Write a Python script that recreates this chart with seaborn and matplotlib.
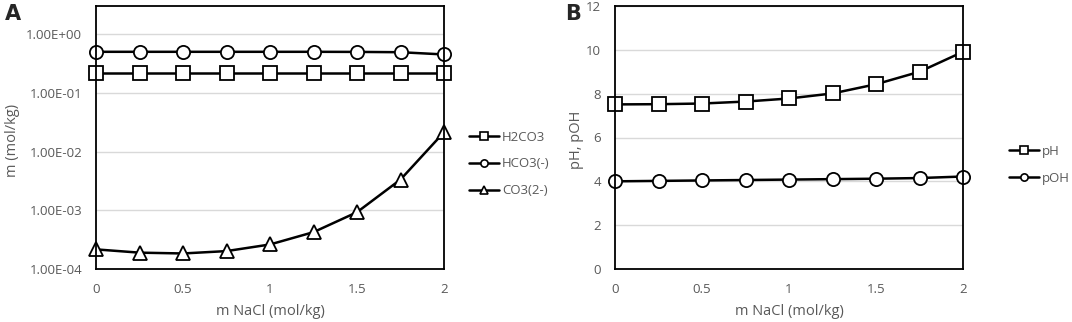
import numpy as np
import pandas as pd
import matplotlib
matplotlib.use("Agg")
import matplotlib.pyplot as plt
import matplotlib.ticker as mticker
import seaborn as sns

# ---- data ----
nacl = [0, 0.25, 0.5, 0.75, 1.0, 1.25, 1.5, 1.75, 2.0]
h2co3 = [0.222, 0.222, 0.222, 0.222, 0.222, 0.222, 0.222, 0.222, 0.222]
hco3 = [0.505, 0.505, 0.505, 0.505, 0.505, 0.505, 0.503, 0.497, 0.455]
co3 = [2.16e-4, 1.9e-4, 1.84e-4, 2.02e-4, 2.62e-4, 4.25e-4, 9.3e-4, 3.35e-3, 2.15e-2]
ph = [7.51, 7.52, 7.55, 7.64, 7.78, 8.01, 8.43, 9.0, 9.91]
poh = [4.0, 4.02, 4.04, 4.06, 4.08, 4.10, 4.12, 4.15, 4.22]

labels_a = ["H2CO3", "HCO3(-)", "CO3(2-)"]
labels_b = ["pH", "pOH"]
xticks = [0, 0.5, 1, 1.5, 2]

sns.set_theme(style="white")
plt.rcParams['font.family'] = ['Open Sans', 'DejaVu Sans']

gray = "#595959"
grid = "#d9d9d9"

W, H = 1072, 322
fig = plt.figure(figsize=(W / 100, H / 100), dpi=100)
axA = fig.add_axes([96 / W, 1 - 269 / H, (444 - 96) / W, (269 - 6) / H])
axB = fig.add_axes([615 / W, 1 - 269 / H, (963 - 615) / W, (269 - 6) / H])

mk = dict(markersize=9.5, markerfacecolor="white", markeredgecolor="black",
          markeredgewidth=1.3, color="black", linewidth=1.8)

def draw(ax, series, labels, markers):
    for ys, lab, m in zip(series, labels, markers):
        df = pd.DataFrame({"x": nacl, "y": ys})
        sns.lineplot(data=df, x="x", y="y", ax=ax, marker=m, label=lab, **mk)

draw(axA, [h2co3, hco3, co3], labels_a, ["s", "o", "^"])
draw(axB, [ph, poh], labels_b, ["s", "o"])

# Axis A
axA.set_yscale("log")
axA.set_ylim(1e-4, 3.05)
axA.yaxis.set_major_locator(mticker.FixedLocator([1e-4, 1e-3, 1e-2, 1e-1, 1e0]))
axA.yaxis.set_minor_locator(mticker.NullLocator())
axA.yaxis.set_major_formatter(mticker.FuncFormatter(lambda v, p: f"{v:.2E}"))
axA.set_ylabel("m (mol/kg)", color=gray, fontsize=10.5)

# Axis B
axB.set_ylim(0, 12)
axB.set_yticks([0, 2, 4, 6, 8, 10, 12])
axB.set_ylabel("pH, pOH", color=gray, fontsize=10.5)

for ax in (axA, axB):
    ax.set_xlim(0, 2)
    ax.set_xticks(xticks)
    ax.xaxis.set_major_formatter(mticker.FuncFormatter(lambda v, p: f"{v:g}"))
    ax.set_xlabel("m NaCl (mol/kg)", color=gray, fontsize=10.5, labelpad=6)
    ax.tick_params(axis="both", colors=gray, labelsize=9.5, length=0, pad=10)
    ax.grid(axis="y", color=grid, linewidth=1)
    ax.set_axisbelow(True)
    for s in ax.spines.values():
        s.set_visible(True)
        s.set_color("black")
        s.set_linewidth(1.3)
    for l in ax.lines:
        l.set_clip_on(False)

# y-label placement (figure pixels)
for ax, xpx in ((axA, 13), (axB, 577)):
    ax.yaxis.set_label_coords(xpx / W, 1 - 140 / H, transform=fig.transFigure)
    ax.yaxis.label.set_verticalalignment("center")

def legend_at(ax, x_px, y_center_px):
    leg = ax.legend(loc="center left",
                    bbox_to_anchor=(x_px / W, 1 - y_center_px / H),
                    bbox_transform=fig.transFigure, frameon=False,
                    fontsize=9.5, handlelength=2.3, labelspacing=1.05,
                    handletextpad=0.2, borderpad=0, borderaxespad=0,
                    markerscale=0.55)
    for t in leg.get_texts():
        t.set_color(gray)
    for h in leg.legend_handles:
        h.set_markeredgewidth(1.2)
    return leg

legend_at(axA, 469, 164)
legend_at(axB, 1009, 165)

fig.text(5 / W, 1 - 4 / H, "A", fontsize=15, fontweight="bold", va="top", ha="left", family="DejaVu Sans")
fig.text(565 / W, 1 - 4 / H, "B", fontsize=15, fontweight="bold", va="top", ha="left", family="DejaVu Sans")

fig.savefig("out.png", dpi=100)
